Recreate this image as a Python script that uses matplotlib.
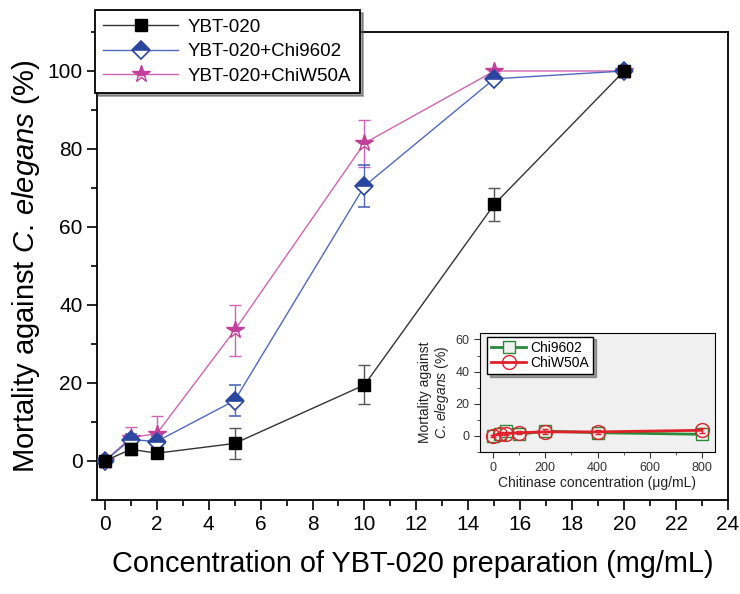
import matplotlib.pyplot as plt
from matplotlib.ticker import MultipleLocator

plt.rcParams['font.family'] = ['Liberation Sans', 'DejaVu Sans']
plt.rcParams['mathtext.fontset'] = 'custom'
plt.rcParams['mathtext.it'] = 'Liberation Sans:italic'
plt.rcParams['mathtext.rm'] = 'Liberation Sans'

# main panel data
conc = [0, 1, 2, 5, 10, 15, 20]
ybt = [0, 3, 2, 4.5, 19.5, 65.8, 100]
ybt_err = [0.5, 1.5, 1.0, 4.0, 5.0, 4.2, 0.5]
chi9602 = [0, 5.5, 5, 15.5, 70.5, 98, 100]
chi9602_err = [0.5, 1.5, 1.5, 4.0, 5.3, 0.5, 0.5]
chiw50a = [0, 6, 7, 33.5, 81.5, 100, 100]
chiw50a_err = [0.5, 2.8, 4.5, 6.6, 6.0, 0.5, 0.5]

# inset data
chit_conc = [0, 25, 50, 100, 200, 400, 800]
ins_9602 = [0, 1.5, 3.0, 1.0, 3.0, 2.0, 1.0]
ins_9602_err = [0.5, 1.0, 1.5, 1.0, 1.5, 1.0, 1.0]
ins_w50a = [0, 1.5, 1.5, 2.0, 2.5, 2.5, 3.5]
ins_w50a_err = [0.5, 1.0, 1.0, 1.0, 1.5, 1.0, 1.5]

fig = plt.figure(figsize=(7.4, 5.94), dpi=100)
ax = fig.add_axes([97 / 740, 1 - 500 / 594, 631 / 740, 468 / 594])

black, blue, pink = '#000000', '#2a46a0', '#c2409a'
l1 = ax.errorbar(conc, ybt, yerr=ybt_err, color='#333333', lw=1.0,
                 marker='s', ms=9, mfc=black, mec=black,
                 ecolor='#555555', elinewidth=1.0, capsize=4, zorder=5)
l2 = ax.errorbar(conc, chi9602, yerr=chi9602_err, color='#5068c0', lw=1.0,
                 marker='D', ms=9, mfc=blue, mec=blue, fillstyle='top',
                 markerfacecoloralt='white', mew=1.2,
                 ecolor='#5068c0', elinewidth=1.0, capsize=4, zorder=4)
l3 = ax.errorbar(conc, chiw50a, yerr=chiw50a_err, color='#d064b0', lw=1.0,
                 marker='*', ms=13, mfc=pink, mec=pink, fillstyle='top',
                 markerfacecoloralt='white', mew=1.0,
                 ecolor='#d064b0', elinewidth=1.0, capsize=4, zorder=3)

ax.set_xlim(-0.3, 24)
ax.set_ylim(-10, 110)
ax.xaxis.set_major_locator(MultipleLocator(2))
ax.xaxis.set_minor_locator(MultipleLocator(1))
ax.yaxis.set_major_locator(MultipleLocator(20))
ax.yaxis.set_minor_locator(MultipleLocator(10))
ax.tick_params(which='both', direction='out', labelsize=15, width=1.2)
ax.tick_params(which='major', length=7)
ax.tick_params(which='minor', length=4)
for s in ax.spines.values():
    s.set_linewidth(1.3)
ax.set_xlabel('Concentration of YBT-020 preparation (mg/mL)', fontsize=20.8, labelpad=12)
ax.set_ylabel(r'Mortality against $C.\,elegans$ (%)', fontsize=21, labelpad=4)

leg = ax.legend([l1.lines[0], l2.lines[0], l3.lines[0]],
                ['YBT-020', 'YBT-020+Chi9602', 'YBT-020+ChiW50A'],
                loc='upper left', bbox_to_anchor=(95 / 740, 1 - 10 / 594),
                bbox_transform=fig.transFigure, borderaxespad=0,
                fontsize=13.5, handlelength=4, fancybox=False, shadow=True,
                framealpha=1, edgecolor='black', borderpad=0.45,
                labelspacing=0.4, handletextpad=0.5)
leg.get_frame().set_linewidth(1.3)
leg.set_zorder(10)

# inset
ins = fig.add_axes([480 / 740, 1 - 452 / 594, 235 / 740, 119 / 594])
ins.set_facecolor('#f0f0f0')
i1 = ins.errorbar(chit_conc, ins_9602, yerr=ins_9602_err, color='#2a8a3a', lw=2,
                  marker='s', ms=8, mfc='#f0f0f0', mec='#2a8a3a', mew=1.0,
                  ecolor='#2a8a3a', elinewidth=0.8, capsize=2, zorder=3)
i2 = ins.errorbar(chit_conc, ins_w50a, yerr=ins_w50a_err, color='#e0202a', lw=2,
                  marker='o', ms=10, mfc='none', mec='#e0202a', mew=1.0,
                  ecolor='#e0202a', elinewidth=0.8, capsize=2, zorder=4)
ins.set_xlim(-50, 850)
ins.set_ylim(-10, 64)
ins.xaxis.set_major_locator(MultipleLocator(200))
ins.xaxis.set_minor_locator(MultipleLocator(100))
ins.yaxis.set_major_locator(MultipleLocator(20))
ins.yaxis.set_minor_locator(MultipleLocator(10))
ins.tick_params(which='both', direction='out', labelsize=9, colors='#333333')
ins.tick_params(which='major', length=4)
ins.tick_params(which='minor', length=2)
ins.set_xlabel('Chitinase concentration (\u03bcg/mL)', fontsize=10, labelpad=1, color='#222222')
ins.set_ylabel('Mortality against\n' + r'$C.\,elegans$ (%)', fontsize=10, labelpad=3,
               color='#222222', linespacing=1.1)
ileg = ins.legend([i1.lines[0], i2.lines[0]], ['Chi9602', 'ChiW50A'], loc='upper left',
                  bbox_to_anchor=(0.03, 0.97), fontsize=10, handlelength=2.5,
                  fancybox=False, shadow=True, framealpha=1, edgecolor='black',
                  borderpad=0.3, labelspacing=0.1, handletextpad=0.3, borderaxespad=0)

fig.savefig('out.png', dpi=100)
